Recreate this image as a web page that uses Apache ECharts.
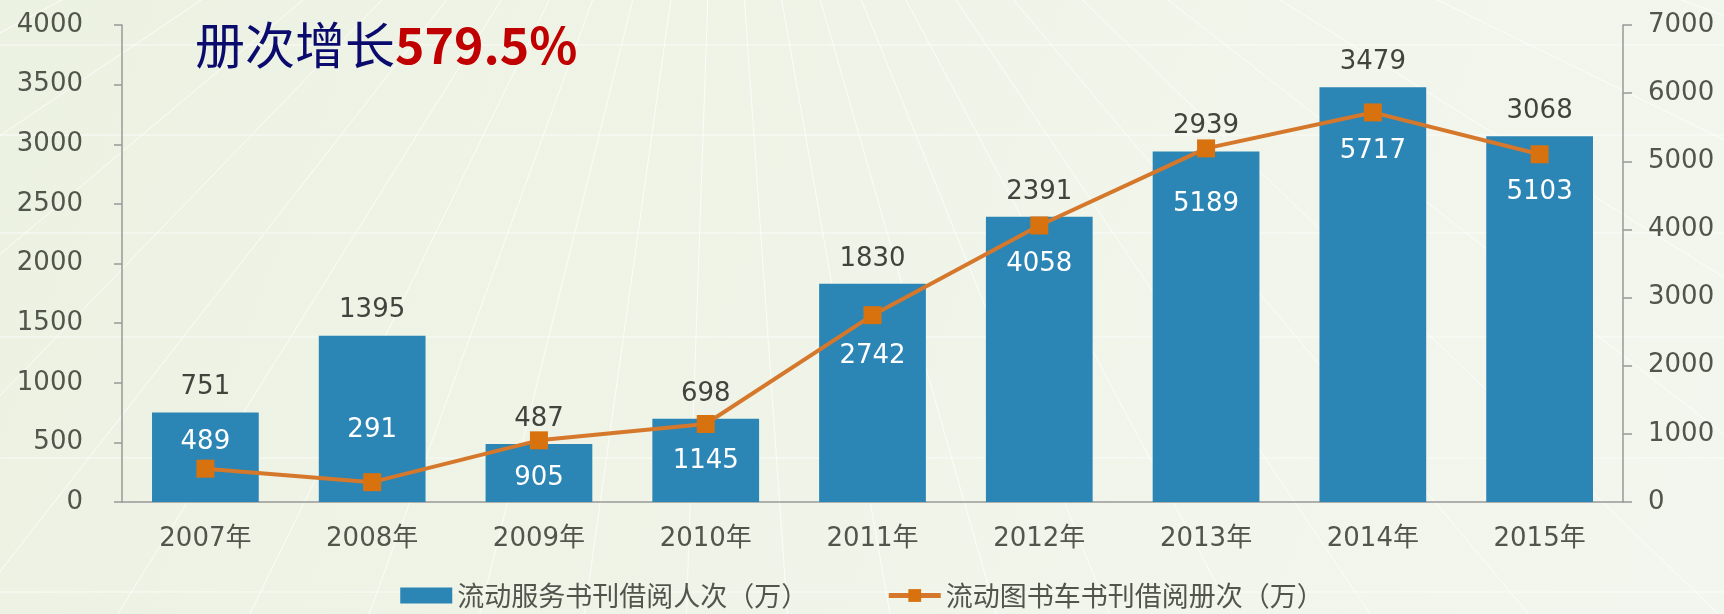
<!DOCTYPE html>
<html>
<head>
<meta charset="utf-8">
<script src="https://cdn.jsdelivr.net/npm/echarts@6/dist/echarts.min.js"></script>
<style>
html, body { margin: 0; padding: 0; }
#main { width: 1724px; height: 614px; }
</style>
</head>
<body>
<div id="main"></div>
<script>
// 年份 + 两组数据
var years = ['2007年', '2008年', '2009年', '2010年', '2011年', '2012年', '2013年', '2014年', '2015年'];
var readers = [751, 1395, 487, 698, 1830, 2391, 2939, 3479, 3068];      // 流动服务书刊借阅人次（万）
var volumes = [489, 291, 905, 1145, 2742, 4058, 5189, 5717, 5103];      // 流动图书车书刊借阅册次（万）
var leftTicks = { min: 0, max: 4000, interval: 500 };
var rightTicks = { min: 0, max: 7000, interval: 1000 };

// 白色数值标签相对折线点的上下偏移（像素）
var volLabelDy = [-26, -52, 38, 37, 41, 39, 56, 39, 38];

var numFont = 'DejaVu Sans, Noto Sans CJK SC';
var cjkFont = 'Noto Sans CJK SC';
var gray = '#50564c';

// 背景的白色放射线 + 横线
function bgLines() {
  var g = [];
  var cx = 720, cy = -350;
  for (var a = 20; a <= 160; a += 6) {
    var r = a * Math.PI / 180;
    g.push({
      type: 'line', silent: true, z: -5,
      shape: { x1: cx, y1: cy, x2: cx + Math.cos(r) * 2400, y2: cy + Math.sin(r) * 2400 },
      style: { stroke: '#ffffff', lineWidth: 1, opacity: 0.75 }
    });
  }
  [45, 135, 233, 337, 458, 592].forEach(function (y) {
    g.push({
      type: 'line', silent: true, z: -5,
      shape: { x1: 0, y1: y, x2: 1724, y2: y },
      style: { stroke: '#ffffff', lineWidth: 1, opacity: 0.7 }
    });
  });
  return g;
}

var plain = function (v) { return String(v); };

var chart = echarts.init(document.getElementById('main'));
var option = {
  animation: false,
  backgroundColor: {
    type: 'linear', x: 0, y: 0, x2: 1, y2: 1,
    colorStops: [{ offset: 0, color: '#ecf2e2' }, { offset: 1, color: '#f3f6ee' }]
  },
  title: {
    text: '{a|册次增长}{b|579.5%}',
    left: 195, top: 20, padding: 0,
    textStyle: {
      rich: {
        a: { fontFamily: cjkFont, fontSize: 50, fontWeight: 'normal', color: '#0b0b6e' },
        b: { fontFamily: cjkFont, fontSize: 50, fontWeight: 'bold', color: '#c00000' }
      }
    }
  },
  graphic: bgLines(),
  legend: {
    top: 577, left: 'center',
    itemWidth: 52, itemHeight: 16, itemGap: 78,
    textStyle: { fontFamily: cjkFont, fontSize: 27, color: gray },
    data: [
      { name: '流动服务书刊借阅人次（万）', icon: 'rect' },
      { name: '流动图书车书刊借阅册次（万）', lineStyle: { width: 5 } }
    ]
  },
  grid: { left: 122, right: 101, top: 25, bottom: 112 },
  xAxis: {
    type: 'category',
    data: years,
    axisLine: { lineStyle: { color: '#999', width: 1.5 } },
    axisTick: { length: 8, lineStyle: { color: '#999', width: 1.5 } },
    axisLabel: { margin: 24, fontFamily: numFont, fontSize: 26, color: gray }
  },
  yAxis: [{
    type: 'value',
    min: leftTicks.min, max: leftTicks.max, interval: leftTicks.interval,
    axisLine: { show: true, lineStyle: { color: '#999', width: 1.5 } },
    axisTick: { show: true, length: 8, lineStyle: { color: '#999', width: 1.5 } },
    splitLine: { show: false },
    axisLabel: { margin: 39, formatter: plain, fontFamily: numFont, fontSize: 26, color: gray }
  }, {
    type: 'value',
    min: rightTicks.min, max: rightTicks.max, interval: rightTicks.interval,
    axisLine: { show: true, lineStyle: { color: '#999', width: 1.5 } },
    axisTick: { show: true, length: 9, lineStyle: { color: '#999', width: 1.5 } },
    splitLine: { show: false },
    axisLabel: { margin: 25, formatter: plain, fontFamily: numFont, fontSize: 26, color: gray }
  }],
  series: [{
    name: '流动服务书刊借阅人次（万）',
    type: 'bar',
    data: readers,
    barCategoryGap: '36%',
    itemStyle: { color: '#2b85b5' },
    label: {
      show: true, position: 'top', distance: 12,
      fontFamily: numFont, fontSize: 26, color: '#3f443d'
    },
    z: 2
  }, {
    name: '流动图书车书刊借阅册次（万）',
    type: 'line',
    yAxisIndex: 1,
    data: volumes.map(function (v, i) {
      return { value: v, label: { offset: [0, volLabelDy[i]] } };
    }),
    symbol: 'rect',
    symbolSize: 18,
    lineStyle: { color: '#d5782c', width: 4 },
    itemStyle: { color: '#d8720f' },
    label: {
      show: true, position: 'inside',
      fontFamily: numFont, fontSize: 26, color: '#ffffff'
    },
    z: 3
  }]
};
chart.setOption(option);
</script>
</body>
</html>
